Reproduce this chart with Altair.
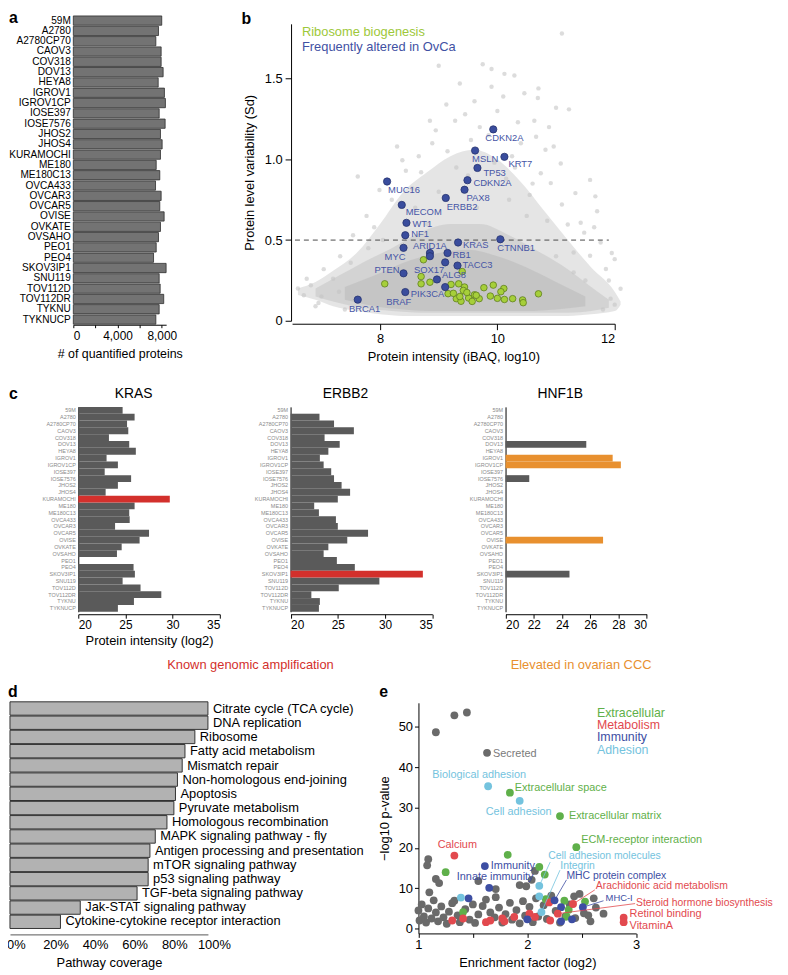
import altair as alt
import pandas as pd

FONT = "Liberation Sans"
W, H = 780, 967
MARGIN = 8


def X(p):
    return p - MARGIN


def Y(p):
    return p - MARGIN


# ------------------------------------------------------------------ data
cell_lines = ["59M", "A2780", "A2780CP70", "CAOV3", "COV318", "DOV13", "HEYA8", "IGROV1",
              "IGROV1CP", "IOSE397", "IOSE7576", "JHOS2", "JHOS4", "KURAMOCHI", "ME180",
              "ME180C13", "OVCA433", "OVCAR3", "OVCAR5", "OVISE", "OVKATE", "OVSAHO", "PEO1",
              "PEO4", "SKOV3IP1", "SNU119", "TOV112D", "TOV112DR", "TYKNU", "TYKNUCP"]
quantified_proteins = [8000, 7706, 7467, 7947, 7947, 8126, 7679, 8244, 8333, 7769, 8307, 7885,
                       8037, 7885, 7500, 7823, 7437, 7947, 7823, 8217, 7885, 7706, 7500, 7258,
                       8396, 7769, 7858, 8180, 7769, 7467]

# panel b
ribosome_x = [8.08, 8.74, 8.70, 8.70, 8.85, 9.40, 9.16, 9.21, 9.34, 9.44, 9.42, 9.30, 9.38, 9.51,
              9.61, 9.69, 9.57, 9.77, 9.93, 9.88, 10.00, 10.11, 10.06, 10.12, 10.26, 10.43, 10.44,
              10.70, 9.64, 9.25, 9.48, 9.36]
ribosome_y = [0.229, 0.378, 0.274, 0.229, 0.239, 0.305, 0.168, 0.225, 0.229, 0.209, 0.188, 0.137,
              0.121, 0.141, 0.161, 0.137, 0.120, 0.205, 0.221, 0.153, 0.139, 0.200, 0.180, 0.132,
              0.137, 0.129, 0.112, 0.167, 0.158, 0.170, 0.175, 0.150]
ovca_genes = ["MUC16", "MECOM", "WT1", "NF1", "MYC", "ARID1A", "", "SOX17", "PTEN", "ALG8",
              "PIK3CA", "BRAF", "BRCA1", "RB1", "KRAS", "TACC3", "CTNNB1", "ERBB2", "PAX8",
              "CDKN2A", "MSLN", "TP53", "CDKN2A", "KRT7"]
ovca_x = [8.12, 8.37, 8.45, 8.43, 8.40, 8.85, 8.85, 9.11, 8.40, 8.97, 9.11, 8.43, 7.62, 9.15,
          9.33, 9.32, 10.05, 9.12, 9.44, 9.49, 9.62, 9.66, 9.93, 10.12]
ovca_y = [0.863, 0.718, 0.607, 0.530, 0.452, 0.420, 0.400, 0.362, 0.294, 0.256, 0.209, 0.178,
          0.131, 0.420, 0.485, 0.342, 0.505, 0.761, 0.812, 0.871, 1.055, 0.947, 1.186, 1.016]
# label placement for the OvCa genes (dx, dy, align) - style only
ovca_label_place = [(1, 9, "left"), (4, 7, "left"), (6, 1, "left"), (6, -1, "left"),
                    (2, 9, "right"), (0, -7, "center"), (0, 0, "left"), (-1, 8, "right"),
                    (-4, -3, "right"), (5, -4, "left"), (-1, 7, "right"), (6, 10, "right"),
                    (7, 9, "center"), (5, 2, "left"), (5, 3, "left"), (5, -1, "left"),
                    (-3, 9, "left"), (1, 9, "left"), (2, 8, "left"), (6, 3, "left"),
                    (-3, 9, "left"), (6, 5, "left"), (-8, 9, "left"), (4, 7, "left")]

# background cloud of all proteins: density bands
cloud_outer_x = [6.6, 6.9, 7.2, 7.6, 8.0, 8.4, 8.8, 9.2, 9.6, 10.0, 10.4, 10.8, 11.2, 11.6, 12.0, 12.1]
cloud_outer_lo = [0.16, 0.13, 0.09, 0.06, 0.04, 0.03, 0.03, 0.03, 0.03, 0.03, 0.03, 0.03, 0.03, 0.04, 0.06, 0.10]
cloud_outer_hi = [0.20, 0.24, 0.31, 0.42, 0.60, 0.80, 0.92, 1.02, 1.06, 1.00, 0.86, 0.68, 0.50, 0.33, 0.18, 0.12]
cloud_inner_x = [6.9, 7.3, 7.7, 8.2, 8.7, 9.2, 9.7, 10.2, 10.7, 11.2, 11.6, 11.9]
cloud_inner_lo = [0.15, 0.11, 0.08, 0.06, 0.05, 0.05, 0.05, 0.05, 0.05, 0.05, 0.06, 0.08]
cloud_inner_hi = [0.20, 0.28, 0.36, 0.45, 0.55, 0.60, 0.60, 0.53, 0.43, 0.32, 0.21, 0.13]
cloud_core_x = [7.4, 7.9, 8.4, 9.0, 9.5, 10.0, 10.5, 11.0, 11.5]
cloud_core_lo = [0.13, 0.09, 0.07, 0.06, 0.06, 0.06, 0.06, 0.07, 0.09]
cloud_core_hi = [0.21, 0.28, 0.36, 0.42, 0.44, 0.40, 0.33, 0.24, 0.15]
cloud_pts_x = [9.0, 8.38, 7.62, 6.7, 11.1, 9.9, 10.12, 10.29, 10.1, 10.46, 10.69, 11.0, 11.22, 10.7,
               10.35, 10.63, 10.88, 10.66, 10.82, 10.96, 11.08, 10.74, 10.91, 11.58, 11.33, 11.67,
               11.7, 11.42, 11.2, 11.48, 11.76, 12.0, 11.58, 11.3, 11.85, 12.1, 11.93, 9.61, 9.9,
               9.28, 8.89, 8.66, 8.44, 7.99, 7.77, 7.54, 7.32, 7.04, 6.82, 9.75, 9.36, 9.13, 8.85,
               8.29, 9.45, 9.0, 9.3, 9.8, 10.2, 10.5, 8.6, 9.7, 10.0, 10.4, 8.8, 11.0, 11.3, 7.3,
               7.0, 12.0, 11.8, 6.6, 6.95, 7.4, 10.3, 9.95, 10.6, 8.2, 8.55, 9.55, 10.85, 11.1,
               8.05, 7.8, 11.5, 11.9, 9.15, 9.5, 9.85, 10.15, 8.7, 8.95, 10.55, 10.25, 9.65, 7.9,
               7.2, 7.5, 11.65, 11.95, 6.75, 6.9]
cloud_pts_y = [1.58, 0.995, 0.894, 0.158, 1.78, 1.56, 1.53, 1.52, 1.39, 1.41, 1.38, 1.32, 1.31,
               1.44, 1.23, 1.24, 1.20, 1.14, 1.06, 1.08, 0.975, 0.914, 0.853, 0.873, 0.791, 0.771,
               0.679, 0.607, 0.597, 0.546, 0.485, 0.382, 0.403, 0.423, 0.321, 0.198, 0.137, 1.36,
               1.45, 1.24, 1.10, 1.02, 0.93, 0.81, 0.65, 0.53, 0.40, 0.32, 0.22, 1.59, 1.47, 1.34,
               1.24, 1.08, 1.28, 0.80, 0.95, 0.85, 0.75, 0.65, 0.70, 1.20, 1.30, 1.10, 0.60, 0.40,
               0.30, 0.18, 0.15, 0.10, 0.07, 0.20, 0.11, 0.07, 0.95, 0.98, 0.85, 0.75, 0.82, 1.12,
               0.62, 0.72, 0.50, 0.45, 0.25, 0.25, 1.05, 0.90, 1.15, 0.88, 0.92, 1.18, 0.78, 1.02,
               0.70, 0.58, 0.26, 0.36, 0.58, 0.42, 0.26, 0.09]

# panel c
kras = [24.7, 25.97, 25.17, 25.3, 23.25, 25.4, 26.1, 23.0, 24.2, 22.8, 25.6, 24.2, 22.9, 29.7,
        25.97, 25.4, 25.45, 23.9, 27.5, 26.5, 24.6, 24.1, None, 25.86, 26.0, 24.7, 26.6, 28.8,
        25.9, 24.2]
erbb2 = [None, 23.06, 24.6, 26.7, 23.6, 25.2, 24.0, 23.1, 23.5, 24.3, 24.6, 25.4, 26.3, 25.0,
         22.5, 23.0, 24.8, 25.0, 28.2, 26.0, 24.0, 23.5, 24.9, 26.8, 34.0, 29.4, 25.1, 22.2,
         23.1, 23.0]
hnf1b = [None, None, None, None, None, 25.72, None, 27.59, 28.17, None, 21.68, None, None, None,
         None, None, None, None, None, 26.91, None, None, None, None, 24.53, None, None, None,
         None, None]
kras_amplified = ["KURAMOCHI"]
erbb2_amplified = ["SKOV3IP1"]
hnf1b_ccc = ["IGROV1", "IGROV1CP", "OVISE"]

# panel d
pathways = ["Citrate cycle (TCA cycle)", "DNA replication", "Ribosome", "Fatty acid metabolism",
            "Mismatch repair", "Non-homologous end-joining", "Apoptosis", "Pyruvate metabolism",
            "Homologous recombination", "MAPK signaling pathway - fly",
            "Antigen processing and presentation", "mTOR signaling pathway",
            "p53 signaling pathway", "TGF-beta signaling pathway", "Jak-STAT signaling pathway",
            "Cytokine-cytokine receptor interaction"]
coverage = [1.00, 1.00, 0.934, 0.884, 0.870, 0.846, 0.836, 0.828, 0.793, 0.734, 0.707, 0.698,
            0.698, 0.642, 0.355, 0.255]

# panel e
e_other_x = [1.33, 1.445, 1.16, 1.09, 1.08, 1.16, 1.19, 1.10, 1.33, 1.55, 1.71, 1.71, 1.93, 1.99,
             2.07, 2.04, 2.43, 2.61, 2.70, 2.56,
             1.00, 1.01, 1.03, 1.05, 1.07, 1.09, 1.12, 1.14, 1.16, 1.18, 1.21, 1.23, 1.26, 1.28,
             1.31, 1.36, 1.38, 1.43, 1.47, 1.50, 1.52, 1.55, 1.59, 1.62, 1.66, 1.70, 1.74, 1.77,
             1.80, 1.84, 1.86, 1.90, 1.93, 1.96, 1.98, 2.02, 2.05, 2.08, 2.10, 2.15, 2.18, 2.22,
             2.26, 2.30, 2.35, 2.39, 2.44, 2.48, 2.52, 2.58, 2.63]
e_other_y = [52.9, 53.6, 48.7, 17.2, 15.7, 12.3, 11.3, 9.0, 6.9, 11.8, 9.8, 7.8, 10.8, 10.5,
             14.3, 12.1, 8.0, 7.5, 3.7, 3.3,
             4.5, 2.0, 6.0, 3.0, 1.5, 5.0, 2.5, 7.0, 4.0, 1.8, 5.5, 2.8, 1.2, 4.2, 6.3, 3.3, 1.6,
             4.8, 2.2, 6.0, 1.4, 3.5, 5.6, 7.2, 4.0, 2.8, 5.2, 1.5, 3.6, 6.4, 2.2, 4.6, 1.3, 6.8,
             3.2, 5.4, 1.6, 7.5, 3.0, 5.8, 2.4, 8.2, 4.4, 1.5, 3.0, 6.0, 2.6, 8.6, 3.8, 1.8, 5.2]
e_extracellular_x = [1.82, 1.25, 2.11, 2.16, 2.34, 2.53, 2.38, 2.17, 1.41, 2.36]
e_extracellular_y = [18.3, 14.0, 15.3, 13.4, 6.9, 6.7, 4.7, 7.3, 4.1, 3.0]
e_metabolism_x = [1.31, 1.41, 1.66, 1.62, 1.77, 1.79, 1.88, 2.02, 2.07, 2.21, 2.20]
e_metabolism_y = [2.0, 2.5, 2.0, 1.6, 2.5, 1.8, 2.9, 3.7, 2.9, 2.0, 6.5]
e_immunity_x = [2.31, 1.46, 2.31, 2.41, 2.00]
e_immunity_y = [5.3, 7.5, 1.8, 2.3, 2.3]
e_adhesion_x = [2.11, 1.39]
e_adhesion_y = [8.0, 7.7]

e_terms = ["Secreted", "Biological adhesion", "Extracellular space", "Cell adhesion",
           "Extracellular matrix", "ECM-receptor interaction", "Calcium", "Immunity",
           "Innate immunity", "Cell adhesion molecules", "Integrin", "MHC protein complex",
           "Arachidonic acid metabolism", "MHC-I", "Steroid hormone biosynthesis",
           "Retinol binding", "VitaminA"]
e_term_group = ["Other", "Adhesion", "Extracellular", "Adhesion", "Extracellular", "Extracellular",
                "Metabolism", "Immunity", "Immunity", "Adhesion", "Adhesion", "Immunity",
                "Metabolism", "Immunity", "Metabolism", "Metabolism", "Metabolism"]
e_term_x = [1.63, 1.64, 1.84, 1.93, 2.30, 2.45, 1.33, 1.61, 1.65, 2.11, 2.13, 2.25, 2.42, 2.51,
            2.28, 2.885, 2.885]
e_term_y = [43.6, 35.3, 33.7, 31.7, 27.9, 20.2, 18.1, 15.5, 10.1, 10.6, 4.1, 7.0, 6.1, 5.3, 3.7,
            2.7, 1.6]
# connector ends (label side) for crowded terms
e_link_terms = ["Cell adhesion molecules", "Integrin", "MHC protein complex",
                "Arachidonic acid metabolism", "MHC-I", "Steroid hormone biosynthesis"]
e_link_x = [2.21, 2.30, 2.36, 2.62, 2.70, 2.99]
e_link_y = [16.5, 14.5, 12.1, 9.6, 6.9, 6.2]
# label placement for the terms (dx, dy, align, size) - style only
e_term_place = [(6, 1, "left", 11), (-9, -11, "center", 11), (5, -5, "left", 11),
                (-1, 11, "center", 11), (9, 0, "left", 11), (5, -7, "left", 11),
                (3, -11, "center", 11), (6, 0, "left", 11), (6, -11, "center", 11),
                (9, -30, "left", 10.5), (19, -47, "left", 10.5), (12, -25, "left", 10.5),
                (23, -18, "left", 10.5), (23, -9, "left", 9.5), (79, -11, "left", 10.5),
                (6, -4, "left", 11), (6, 4, "left", 11)]

# ------------------------------------------------------------------ styles
GROUP_COLOR = {"Other": "#6a6a6a", "Extracellular": "#5fb04a", "Metabolism": "#e2494e",
               "Immunity": "#3d4ea3", "Adhesion": "#74c3de"}
LABEL_COLOR = {"Other": "#7a7a7a", "Extracellular": "#5fb04a", "Metabolism": "#e2494e",
               "Immunity": "#3d4ea3", "Adhesion": "#74c3de"}


def ax(**kw):
    base = dict(labelFont=FONT, titleFont=FONT, labelColor="black", titleColor="black",
                domainColor="black", tickColor="black", titleFontWeight="normal", grid=False,
                labelFontSize=12, titleFontSize=13, tickSize=4, labelPadding=2)
    base.update(kw)
    return alt.Axis(**base)


def note(text, x, y, size=13, color="black", align="left", weight="normal",
         baseline="middle"):
    return alt.Chart(pd.DataFrame({"k": [0]})).mark_text(
        text=text, fontSize=size, color=color, align=align, baseline=baseline,
        font=FONT, fontWeight=weight
    ).encode(x=alt.value(X(x)), y=alt.value(Y(y)))


layers = []   # every layer is a direct child: panels share scales by identical definitions

# ------------------------------------------------------------------ panel a
df_a = pd.DataFrame({"line": cell_lines, "n": quantified_proteins})
layers.append(alt.Chart(df_a).mark_bar(color="#737373", stroke="#2e2e2e", strokeWidth=0.8).encode(
    x=alt.X("n:Q",
            scale=alt.Scale(domain=[0, 8400], range=[X(74), X(167.8)], nice=False),
            axis=ax(orient="bottom", offset=Y(323) - H, values=[0, 2000, 4000, 6000, 8000],
                    labelExpr="datum.value % 4000 === 0 ? format(datum.value, ',') : ''",
                    tickSize=3, labelPadding=3, title="# of quantified proteins",
                    titleFontSize=12.5, titlePadding=6)),
    y=alt.Y("line:N",
            scale=alt.Scale(domain=cell_lines, range=[Y(10.5), Y(323)], paddingInner=0.1,
                            paddingOuter=0.05),
            axis=ax(orient="left", offset=-X(73), domain=False, ticks=False, labelPadding=2,
                    labelFontSize=10.2, title="", labelOverlap=False)),
))

# ------------------------------------------------------------------ panel b


def bx():
    return alt.Scale(domain=[6.5, 12], range=[X(295), X(621)], nice=False, zero=False)


def by():
    return alt.Scale(domain=[0, 1.84], range=[Y(319), Y(19)], nice=False, zero=False)


def cloud_band(xs, lo, hi, color, opacity):
    df = pd.DataFrame({"x": xs, "lo": lo, "hi": hi})
    return alt.Chart(df).mark_area(interpolate="monotone", color=color, opacity=opacity).encode(
        x=alt.X("x:Q", scale=bx(), axis=None),
        y=alt.Y("hi:Q", scale=by(), axis=None),
        y2="lo:Q")


layers += [
    cloud_band(cloud_outer_x, cloud_outer_lo, cloud_outer_hi, "#cfcfcf", 0.55),
    cloud_band(cloud_inner_x, cloud_inner_lo, cloud_inner_hi, "#c4c4c4", 0.55),
    cloud_band(cloud_core_x, cloud_core_lo, cloud_core_hi, "#bababa", 0.55),
    alt.Chart(pd.DataFrame({"x": cloud_pts_x, "y": cloud_pts_y})).mark_circle(
        size=20, color="#c4c4c4", opacity=0.6).encode(
        x=alt.X("x:Q", scale=bx(), axis=None), y=alt.Y("y:Q", scale=by(), axis=None)),
    alt.Chart(pd.DataFrame({"x1": [6.55], "x2": [11.9], "y": [0.5]})).mark_rule(
        strokeDash=[5, 4], color="#4a4a4a", strokeWidth=1).encode(
        x=alt.X("x1:Q", scale=bx(),
                axis=ax(orient="bottom", offset=Y(322) - H, values=[8, 10, 12],
                        title="Protein intensity (iBAQ, log10)", labelFontSize=13,
                        tickSize=6, labelPadding=3, titlePadding=5)),
        x2="x2:Q",
        y=alt.Y("y:Q", scale=by(),
                axis=ax(orient="left", offset=-X(294), values=[0, 0.5, 1, 1.5],
                        labelExpr="datum.value === 0 ? '0' : format(datum.value, '.1f')",
                        title="Protein level variability (Sd)", labelFontSize=13,
                        tickSize=6, labelPadding=3, titlePadding=8))),
    alt.Chart(pd.DataFrame({"x": ribosome_x, "y": ribosome_y})).mark_point(
        filled=True, shape="circle", size=44, fill="#a6cf3a", stroke="#5f7d1e",
        strokeWidth=0.8, opacity=1).encode(
        x=alt.X("x:Q", scale=bx(), axis=None), y=alt.Y("y:Q", scale=by(), axis=None)),
    alt.Chart(pd.DataFrame({"x": ovca_x, "y": ovca_y})).mark_point(
        filled=True, shape="circle", size=54, fill="#3a4d9d", stroke="#26336e",
        strokeWidth=0.8, opacity=1).encode(
        x=alt.X("x:Q", scale=bx(), axis=None), y=alt.Y("y:Q", scale=by(), axis=None)),
]
df_ovca = pd.DataFrame({"gene": ovca_genes, "x": ovca_x, "y": ovca_y})
for i, (dx, dy, align) in enumerate(ovca_label_place):
    if not ovca_genes[i]:
        continue
    layers.append(
        alt.Chart(df_ovca.iloc[[i]]).mark_text(
            dx=dx, dy=dy, align=align, baseline="middle", fontSize=9.5, font=FONT,
            color="#4655a5").encode(
            x=alt.X("x:Q", scale=bx(), axis=None), y=alt.Y("y:Q", scale=by(), axis=None),
            text="gene:N"))

# ------------------------------------------------------------------ panel c


def expression_panel(values, highlight, hcolor, x0, x1, dom, ticks, title):
    df = pd.DataFrame({"line": cell_lines, "v": values}).dropna()
    df["base"] = dom[0]

    def xs():
        return alt.Scale(domain=dom, range=[X(x0), X(x1)], nice=False, zero=False)

    def ys():
        return alt.Scale(domain=cell_lines, range=[Y(406), Y(613)], paddingInner=0,
                         paddingOuter=0)

    xaxis = ax(orient="bottom", offset=Y(615.5) - H, values=ticks, title=title, tickSize=4,
               labelPadding=1, titlePadding=5, labelOverlap=False)
    yaxis = ax(orient="left", offset=-X(x0), ticks=False, labelFontSize=5.5,
               labelColor="#8a8a8a", labelPadding=3, title="", labelOverlap=False)
    base = alt.Chart(df[~df["line"].isin(highlight)]).mark_bar(color="#5a5a5a").encode(
        x=alt.X("v:Q", scale=xs(), axis=xaxis), x2="base:Q",
        y=alt.Y("line:N", scale=ys(), axis=yaxis))
    hi = alt.Chart(df[df["line"].isin(highlight)]).mark_bar(color=hcolor).encode(
        x=alt.X("v:Q", scale=xs(), axis=None), x2="base:Q",
        y=alt.Y("line:N", scale=ys(), axis=None))
    return [base, hi]


layers += expression_panel(kras, kras_amplified, "#d3302c", 79, 222, [20, 35],
                           [20, 25, 30, 35], "Protein intensity (log2)")
layers += expression_panel(erbb2, erbb2_amplified, "#d3302c", 293.5, 436.7, [20, 35],
                           [20, 25, 30, 35], "")
layers += expression_panel(hnf1b, hnf1b_ccc, "#e8902f", 510.7, 653.3, [20, 30],
                           [20, 22, 24, 26, 28, 30], "")

# ------------------------------------------------------------------ panel d
df_d = pd.DataFrame({"path": pathways, "cov": coverage})


def dxs():
    return alt.Scale(domain=[0, 1], range=[X(10), X(210)], nice=False)


def dys():
    return alt.Scale(domain=pathways, range=[Y(704), Y(933)], paddingInner=0.06,
                     paddingOuter=0)


layers += [
    alt.Chart(df_d).mark_bar(color="#b2b2b2", stroke="#333333", strokeWidth=1).encode(
        x=alt.X("cov:Q", scale=dxs(),
                axis=ax(orient="bottom", offset=Y(939) - H, values=[0, 0.2, 0.4, 0.6, 0.8, 1],
                        format=".0%", ticks=False, labelPadding=4, labelFontSize=13,
                        labelOffset=6, labelOverlap=False, labelFlush=False,
                        domainColor="#555555", title="Pathway coverage", titlePadding=5)),
        y=alt.Y("path:N", scale=dys(), axis=None)),
    alt.Chart(df_d).mark_text(align="left", baseline="middle", dx=5, fontSize=13, font=FONT,
                              color="black").encode(
        x=alt.X("cov:Q", scale=dxs(), axis=None), y=alt.Y("path:N", scale=dys(), axis=None),
        text="path:N"),
]

# ------------------------------------------------------------------ panel e


def exs():
    return alt.Scale(domain=[1, 3], range=[X(422.7), X(642.7)], nice=False, zero=False)


def eys():
    return alt.Scale(domain=[-1.2, 56], range=[Y(938), Y(705)], nice=False, zero=False)


def e_points(xs, ys, color, axes=False):
    df = pd.DataFrame({"x": xs, "y": ys})
    if axes:
        xenc = alt.X("x:Q", scale=exs(),
                     axis=ax(orient="bottom", offset=Y(938) - H, values=[1, 1.5, 2, 2.5, 3],
                             labelExpr="datum.value % 1 === 0 ? format(datum.value, '.0f') : ''",
                             labelFontSize=13, tickSize=4, labelPadding=1,
                             labelOverlap=False, labelFlush=False,
                             title="Enrichment factor (log2)", titlePadding=5))
        yenc = alt.Y("y:Q", scale=eys(),
                     axis=ax(orient="left", offset=-X(422.7), values=[0, 10, 20, 30, 40, 50],
                             format="d", labelFontSize=13, tickSize=4, labelPadding=2,
                             title="\u2212log10 p-value", titlePadding=7))
    else:
        xenc = alt.X("x:Q", scale=exs(), axis=None)
        yenc = alt.Y("y:Q", scale=eys(), axis=None)
    return alt.Chart(df).mark_circle(size=62, color=color, opacity=1).encode(x=xenc, y=yenc)


layers += [
    e_points(e_other_x, e_other_y, GROUP_COLOR["Other"], axes=True),
    e_points(e_extracellular_x, e_extracellular_y, GROUP_COLOR["Extracellular"]),
    e_points(e_metabolism_x, e_metabolism_y, GROUP_COLOR["Metabolism"]),
    e_points(e_immunity_x, e_immunity_y, GROUP_COLOR["Immunity"]),
    e_points(e_adhesion_x, e_adhesion_y, GROUP_COLOR["Adhesion"]),
]
for g in ["Other", "Extracellular", "Metabolism", "Immunity", "Adhesion"]:
    idx = [i for i, gg in enumerate(e_term_group) if gg == g]
    layers.append(e_points([e_term_x[i] for i in idx], [e_term_y[i] for i in idx],
                           GROUP_COLOR[g]))
for t, lx, ly in zip(e_link_terms, e_link_x, e_link_y):
    i = e_terms.index(t)
    df_l = pd.DataFrame({"x1": [e_term_x[i]], "y1": [e_term_y[i]], "x2": [lx], "y2": [ly]})
    layers.append(alt.Chart(df_l).mark_rule(color=LABEL_COLOR[e_term_group[i]],
                                            strokeWidth=0.8).encode(
        x=alt.X("x1:Q", scale=exs(), axis=None), y=alt.Y("y1:Q", scale=eys(), axis=None),
        x2="x2:Q", y2="y2:Q"))
df_terms = pd.DataFrame({"term": e_terms, "x": e_term_x, "y": e_term_y})
for i, (dx, dy, align, size) in enumerate(e_term_place):
    layers.append(alt.Chart(df_terms.iloc[[i]]).mark_text(
        dx=dx, dy=dy, align=align, baseline="middle", fontSize=size, font=FONT,
        color=LABEL_COLOR[e_term_group[i]]).encode(
        x=alt.X("x:Q", scale=exs(), axis=None), y=alt.Y("y:Q", scale=eys(), axis=None),
        text="term:N"))

# ------------------------------------------------------------------ annotations
layers += [
    note("a", 9, 18, size=16, weight="bold", baseline="alphabetic"),
    note("b", 244, 19, size=16, weight="bold", baseline="alphabetic"),
    note("c", 9, 398, size=16, weight="bold", baseline="alphabetic"),
    note("d", 8, 699, size=16, weight="bold", baseline="alphabetic"),
    note("e", 383, 699, size=16, weight="bold", baseline="alphabetic"),
    note("Ribosome biogenesis", 305, 27, size=13, color="#9dc83a"),
    note("Frequently altered in OvCa", 305, 42, size=13, color="#3f51a3"),
    note("KRAS", 135, 393, size=14, align="center"),
    note("ERBB2", 349, 393, size=14, align="center"),
    note("HNF1B", 566, 393, size=14, align="center"),
    note("Known genomic amplification", 253, 667, size=13, color="#d3302c", align="center"),
    note("Elevated in ovarian CCC", 587, 667, size=13, color="#e8902f", align="center"),
    note("Extracellular", 603, 715, size=12.5, color=GROUP_COLOR["Extracellular"]),
    note("Metabolism", 603, 727.5, size=12.5, color=GROUP_COLOR["Metabolism"]),
    note("Immunity", 603, 740, size=12.5, color=GROUP_COLOR["Immunity"]),
    note("Adhesion", 603, 752.5, size=12.5, color=GROUP_COLOR["Adhesion"]),
]

chart = alt.layer(*layers).resolve_scale(
    x="independent", y="independent"
).properties(
    width=W, height=H, autosize=alt.AutoSizeParams(type="none"), padding=0
).configure_view(strokeWidth=0)

chart.save("out.html", embed_options={"renderer": "svg", "actions": False})
